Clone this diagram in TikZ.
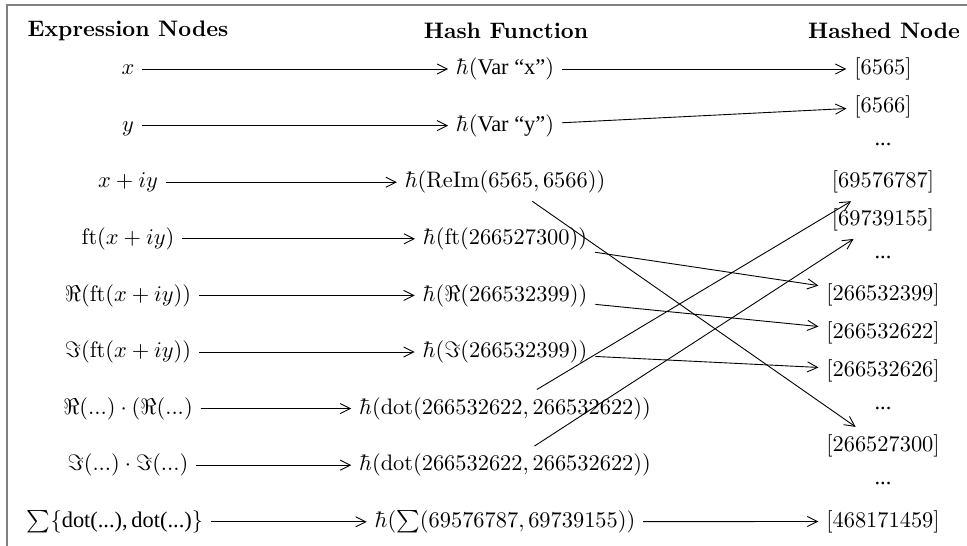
\documentclass[tikz,border=0pt]{standalone}
\usepackage{amsmath}
\usepackage{fontspec}
\newfontfamily\tms[Ligatures=TeX]{Liberation Serif}
\usetikzlibrary{arrows.meta}

\begin{document}
\begin{tikzpicture}[x=0.4464pt, y=-0.4464pt,
  head/.style  ={font=\bfseries},
  expr/.style  ={text height=7.5pt, text depth=2.5pt},
  hashed/.style={text height=7.5pt, text depth=2.5pt},
  link/.style  ={-{Straight Barb[length=4.5pt,width=4.5pt]}, line width=0.4pt}]

  \useasboundingbox (0,0) rectangle (967,545);
  % frame (cut at the right and bottom)
  \draw[gray, line width=0.7pt] (7,570) |- (990,5);

  % column titles
  \node[head] (tExpr) at (128,31){Expression Nodes};
  \node[head] (tHash) at (506,31){Hash Function};
  \node[head] (tNode) at (884,31){Hashed Node};

  % expression nodes
  \node[expr] (e1) at (128,69)   {$x$};
  \node[expr] (e2) at (128,125.6){$y$};
  \node[expr] (e3) at (128,182.2){$x+iy$};
  \node[expr] (e4) at (128,238.8){$\mathrm{ft}(x+iy)$};
  \node[expr] (e5) at (128,295.4){$\Re(\mathrm{ft}(x+iy))$};
  \node[expr] (e6) at (128,352)  {$\Im(\mathrm{ft}(x+iy))$};
  \node[expr] (e7) at (128,408.6){$\Re(...)\cdot(\Re(...)$};
  \node[expr] (e8) at (128,465.2){$\Im(...)\cdot\Im(...)$};
  \node[expr] (e9) at (115,521.8){$\sum\{\text{\tms dot(...),\,dot(...)}\}$};

  % hash function
  \node[expr] (f1) at (505,69)   {$\hbar(\text{\tms Var ``x''})$};
  \node[expr] (f2) at (505,125.6){$\hbar(\text{\tms Var ``y''})$};
  \node[expr] (f3) at (505,182.2){$\hbar(\mathrm{ReIm}(6565,6566))$};
  \node[expr] (f4) at (505,238.8){$\hbar(\mathrm{ft}(266527300))$};
  \node[expr] (f5) at (505,295.4){$\hbar(\Re(266532399))$};
  \node[expr] (f6) at (505,352)  {$\hbar(\Im(266532399))$};
  \node[expr] (f7) at (505,408.6){$\hbar(\mathrm{dot}(266532622,266532622))$};
  \node[expr] (f8) at (505,465.2){$\hbar(\mathrm{dot}(266532622,266532622))$};
  \node[expr] (f9) at (505,521.8){$\hbar(\sum(69576787,69739155))$};

  % hashed nodes (own row spacing)
  \node[hashed] (h6565)      at (883,69)   {[6565]};
  \node[hashed] (h6566)      at (883,106.7){[6566]};
  \node         (skipA)      at (883,144.4){\tms ...};
  \node[hashed] (h69576787)  at (883,182.1){[69576787]};
  \node[hashed] (h69739155)  at (883,219.8){[69739155]};
  \node         (skipB)      at (883,257.5){\tms ...};
  \node[hashed] (h266532399) at (883,295.2){[266532399]};
  \node[hashed] (h266532622) at (883,332.9){[266532622]};
  \node[hashed] (h266532626) at (883,370.6){[266532626]};
  \node         (skipC)      at (883,408.3){\tms ...};
  \node[hashed] (h266527300) at (883,446)  {[266527300]};
  \node         (skipD)      at (883,483.7){\tms ...};
  \node[hashed] (h468171459) at (883,521.4){[468171459]};

  % expression -> hash
  \foreach \i in {1,...,9}{\draw[link] (e\i) -- (f\i);}

  % hash -> hashed node
  \draw[link] (f1) -- (h6565);
  \draw[link] (f2) -- (h6566);
  \draw[link] (f3) -- (h266527300);
  \draw[link] (f4) -- (h266532399);
  \draw[link] (f5) -- (h266532622);
  \draw[link] (f6) -- (h266532626);
  \draw[link] (f7) -- (h69576787);
  \draw[link] (f8) -- (h69739155);
  \draw[link] (f9) -- (h468171459);
\end{tikzpicture}
\end{document}
